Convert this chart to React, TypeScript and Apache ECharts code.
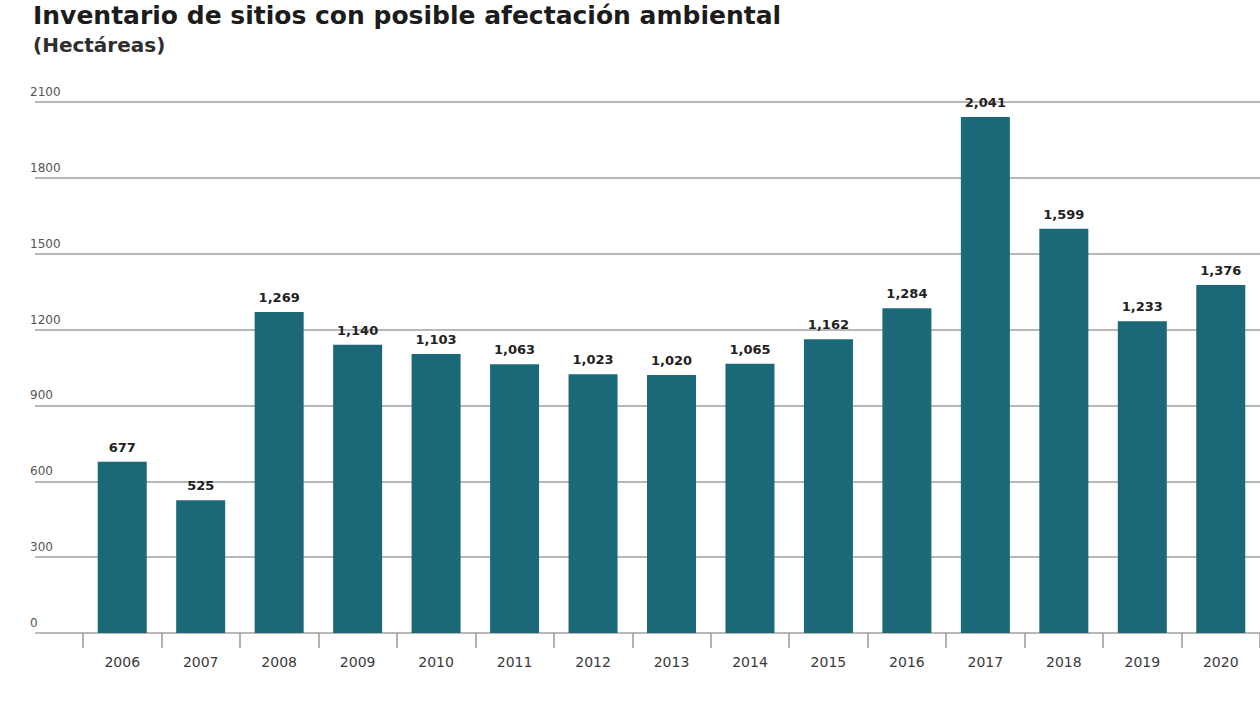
import React, { useEffect, useRef } from "react";
import * as echarts from "echarts";

const years = ["2006", "2007", "2008", "2009", "2010", "2011", "2012", "2013", "2014", "2015", "2016", "2017", "2018", "2019", "2020"];
const hectares = [677, 525, 1269, 1140, 1103, 1063, 1023, 1020, 1065, 1162, 1284, 2041, 1599, 1233, 1376];
const yMin = 0;
const yMax = 2100;
const yStep = 300;
const titleText = "Inventario de sitios con posible afectación ambiental";
const subtitleText = "(Hectáreas)";

const FONT = "DejaVu Sans";

export default function App() {
  const ref = useRef<HTMLDivElement>(null);
  useEffect(() => {
    if (!ref.current) return;
    const chart = echarts.init(ref.current, undefined, { renderer: "svg" });
    chart.setOption({
      animation: false,
      backgroundColor: "#ffffff",
      graphic: [
        {
          type: "text",
          left: 33,
          top: 3,
          style: { text: titleText, fontFamily: FONT, fontWeight: "bold", fontSize: 25, fill: "#1c1c1c" },
        },
        {
          type: "text",
          left: 33,
          top: 35,
          style: { text: subtitleText, fontFamily: FONT, fontWeight: "bold", fontSize: 20, fill: "#2e2e2e" },
        },
      ],
      grid: [
        { left: 35, right: 0, top: 102, bottom: 72, containLabel: false },
        { left: 83, width: 1179, top: 102, bottom: 72, containLabel: false },
      ],
      xAxis: [
        { type: "value", gridIndex: 0, show: false, min: 0, max: 1 },
        {
          type: "category",
          gridIndex: 1,
          data: years,
          boundaryGap: true,
          axisLine: { show: false },
          axisTick: { show: true, length: 15, lineStyle: { color: "#9a9a9a", width: 1.5 } },
          axisLabel: { margin: 22, fontFamily: FONT, fontSize: 14, color: "#3a3a3a" },
        },
      ],
      yAxis: [
        {
          type: "value",
          gridIndex: 0,
          min: yMin,
          max: yMax,
          interval: yStep,
          axisLine: { show: false },
          axisTick: { show: false },
          axisLabel: {
            inside: true,
            margin: -5,
            verticalAlign: "bottom",
            padding: [0, 0, 4, 0],
            fontFamily: FONT,
            fontSize: 12,
            color: "#555",
            formatter: (v: number) => String(v),
          },
          splitLine: { show: true, lineStyle: { color: "#b8b8b8", width: 2 } },
        },
        { type: "value", gridIndex: 1, min: yMin, max: yMax, interval: yStep, show: false },
      ],
      series: [
        {
          type: "bar",
          xAxisIndex: 1,
          yAxisIndex: 1,
          data: hectares,
          barWidth: 49,
          itemStyle: { color: "#1a6878" },
          label: {
            show: true,
            position: "top",
            distance: 8,
            fontFamily: FONT,
            fontWeight: "bold",
            fontSize: 13,
            color: "#222",
            formatter: (p: any) => Number(p.value).toLocaleString("en-US"),
          },
        },
      ],
    });
    return () => chart.dispose();
  }, []);
  return (
    <div
      ref={ref}
      style={{ position: "fixed", left: 0, top: 0, width: 1260, height: 705, background: "#fff" }}
    />
  );
}
